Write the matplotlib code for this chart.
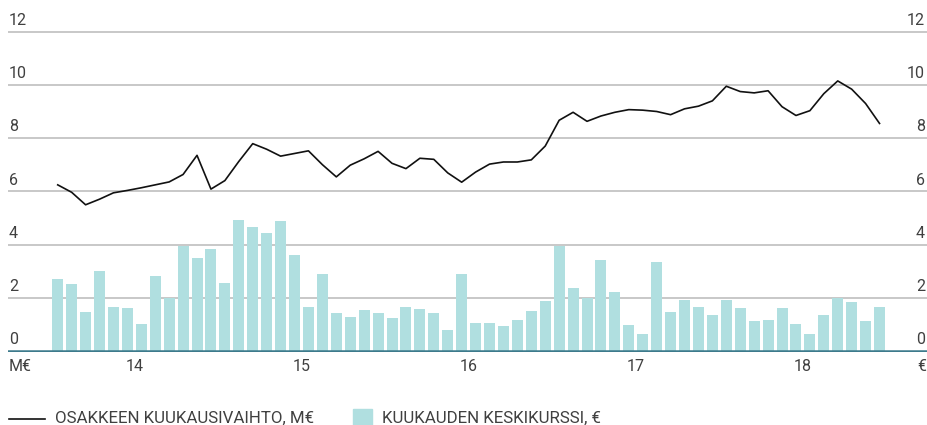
import matplotlib
matplotlib.use('Agg')
import matplotlib.pyplot as plt
from matplotlib.lines import Line2D
from matplotlib.patches import Rectangle
import numpy as np

plt.rcParams['font.family'] = ['Roboto', 'DejaVu Sans']

# kuukaudet 7/2013 - 6/2018
months = ['%d-%02d' % (2013 + (6 + k) // 12, (6 + k) % 12 + 1) for k in range(60)]

# kuukauden keskikurssi, €
kurssi = [2.70, 2.51, 1.46, 3.00, 1.65, 1.61, 1.01, 2.81, 2.00, 3.95,
          3.49, 3.83, 2.55, 4.91, 4.65, 4.43, 4.88, 3.60, 1.65, 2.89,
          1.43, 1.28, 1.54, 1.43, 1.24, 1.65, 1.58, 1.43, 0.79, 2.89,
          1.05, 1.05, 0.94, 1.16, 1.50, 1.88, 3.95, 2.36, 1.98, 3.41,
          2.21, 0.98, 0.64, 3.34, 1.46, 1.91, 1.65, 1.35, 1.91, 1.61,
          1.13, 1.16, 1.61, 1.01, 0.64, 1.35, 1.98, 1.84, 1.13, 1.65]

# osakkeen kuukausivaihto, M€
vaihto = [6.25, 5.97, 5.50, 5.71, 5.95, 6.04, 6.14, 6.25, 6.36, 6.64,
          7.36, 6.09, 6.41, 7.13, 7.80, 7.59, 7.33, 7.43, 7.53, 7.01,
          6.55, 6.99, 7.23, 7.51, 7.06, 6.86, 7.25, 7.21, 6.70, 6.35,
          6.73, 7.03, 7.11, 7.11, 7.19, 7.71, 8.68, 8.98, 8.64, 8.84,
          8.98, 9.08, 9.06, 9.01, 8.89, 9.11, 9.21, 9.41, 9.96, 9.76,
          9.71, 9.79, 9.19, 8.86, 9.04, 9.68, 10.16, 9.85, 9.31, 8.56]

y_ticks = [0, 2, 4, 6, 8, 10, 12]
year_labels = ['14', '15', '16', '17', '18']

txt = '#404040'
bar_col = '#b0dfe0'
grid_col = '#c4c4c4'
base_col = '#3d7a8c'
fs = 11.5
fs_leg = 12.2

W, H = 928, 425
fig = plt.figure(figsize=(W / 100, H / 100), dpi=100)
ax = fig.add_axes([8 / W, 1 - 352.3 / H, 920 / W, (352.3 - 26.7) / H])

x = np.arange(len(months))
ax.bar(x, kurssi, width=0.79, color=bar_col, zorder=2)
ax.plot(x, vaihto, color='#111111', lw=1.2, zorder=3)

ax.set_xlim(-3.57, 62.48)
ax.set_ylim(-0.05, 12.2)

for v in y_ticks:
    if v == 0:
        ax.axhline(v, color=base_col, lw=1.8, zorder=4)
    else:
        ax.axhline(v, color=grid_col, lw=1.3, zorder=1)
    ax.annotate(str(v), (0.001, v), xycoords=('axes fraction', 'data'),
                xytext=(0, 5), textcoords='offset points',
                ha='left', va='baseline', fontsize=fs, color=txt)
    ax.annotate(str(v), (0.9967, v), xycoords=('axes fraction', 'data'),
                xytext=(0, 5), textcoords='offset points',
                ha='right', va='baseline', fontsize=fs, color=txt)

for s in ax.spines.values():
    s.set_visible(False)
ax.set_xticks([])
ax.set_yticks([])

# vuosien nimet vuodenvaihteeseen
jan = [i - 0.5 for i, m in enumerate(months) if m.endswith('-01')]
for pos, lab in zip(jan, year_labels):
    ax.annotate(lab, (pos, 0), xycoords=('data', 'data'),
                xytext=(0, -11), textcoords='offset points',
                ha='center', va='center', fontsize=fs, color=txt)
ax.annotate('M€', (0.001, 0), xycoords=('axes fraction', 'data'),
            xytext=(0, -11), textcoords='offset points',
            ha='left', va='center', fontsize=fs, color=txt)
ax.annotate('€', (1.0, 0), xycoords=('axes fraction', 'data'),
            xytext=(-1, -11), textcoords='offset points',
            ha='right', va='center', fontsize=fs, color=txt)

# selite
fig.add_artist(Line2D([9 / W, 45 / W], [1 - 419 / H, 1 - 419 / H],
                      color='#111111', lw=1.2))
fig.text(55 / W, 1 - 418 / H, 'OSAKKEEN KUUKAUSIVAIHTO, M€',
         ha='left', va='center', fontsize=fs_leg, color=txt)
fig.add_artist(Rectangle((353 / W, 1 - 426 / H), 19 / W, 17 / H,
                         color=bar_col, transform=fig.transFigure))
fig.text(382 / W, 1 - 418 / H, 'KUUKAUDEN KESKIKURSSI, €',
         ha='left', va='center', fontsize=fs_leg, color=txt)

fig.savefig('out.png', dpi=100)
